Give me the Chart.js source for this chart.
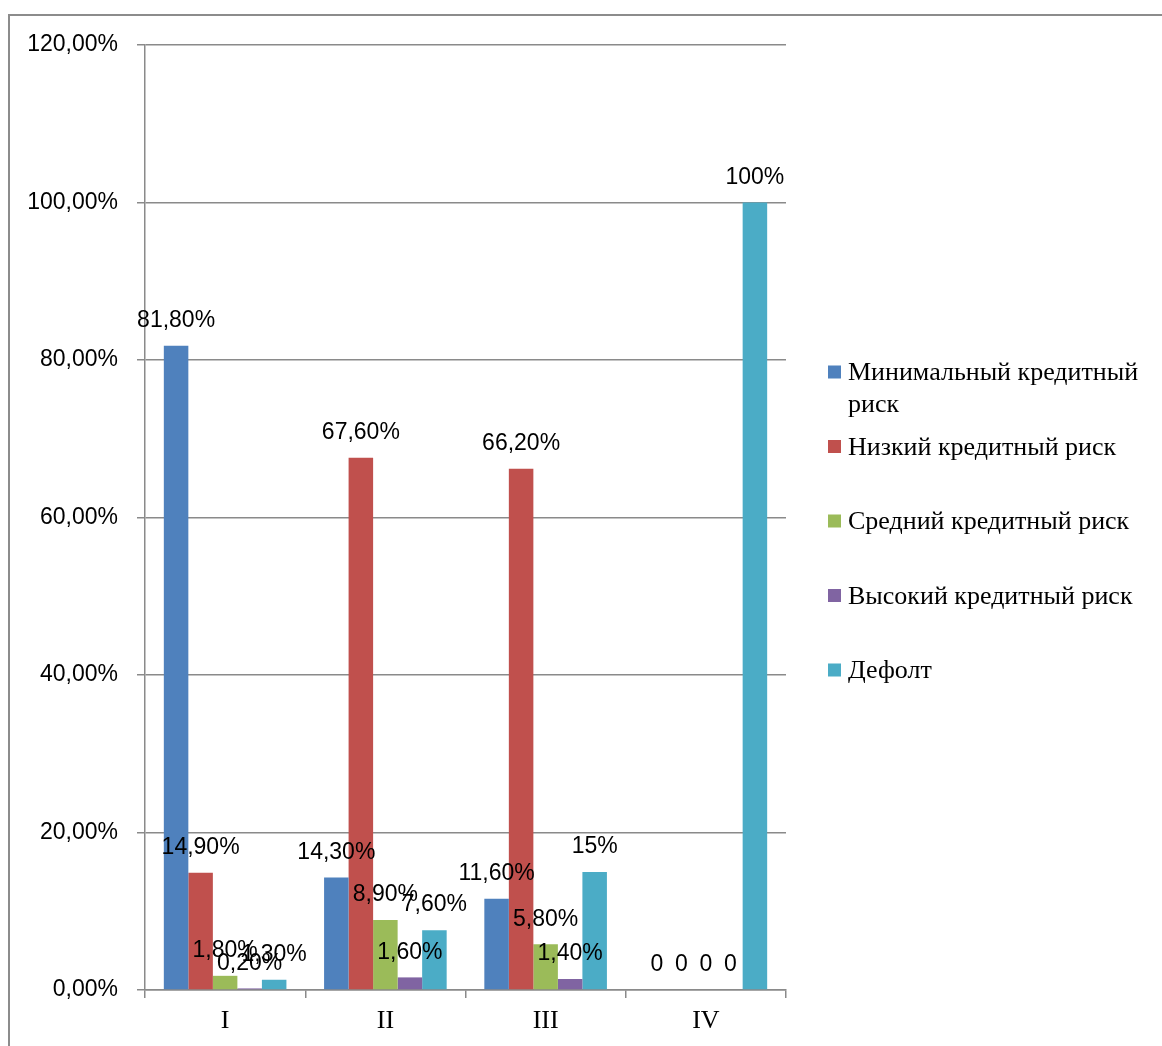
<!DOCTYPE html>
<html>
<head>
<meta charset="utf-8">
<title>Кредитный риск</title>
<script src="https://cdn.jsdelivr.net/npm/chart.js@4/dist/chart.umd.min.js"></script>
<style>
    html, body { margin: 0; padding: 0; background: #fff; }
    #chart { display: block; }
</style>
</head>
<body>
<canvas id="chart" width="1162" height="1046"></canvas>
<script>
// groups on the x axis
const categories = ['I', 'II', 'III', 'IV'];

// share of each risk class per group, %
const minimalRisk = [81.8, 14.3, 11.6, 0];
const lowRisk = [14.9, 67.6, 66.2, 0];
const mediumRisk = [1.8, 8.9, 5.8, 0];
const highRisk = [0.2, 1.6, 1.4, 0];
const defaultRisk = [1.3, 7.6, 15, 100];

// text printed above each bar
const minimalLabels = ['81,80%', '14,30%', '11,60%', '0'];
const lowLabels = ['14,90%', '67,60%', '66,20%', '0'];
const mediumLabels = ['1,80%', '8,90%', '5,80%', '0'];
const highLabels = ['0,20%', '1,60%', '1,40%', '0'];
const defaultLabels = ['1,30%', '7,60%', '15%', '100%'];

const seriesNames = [
    'Минимальный кредитный риск',
    'Низкий кредитный риск',
    'Средний кредитный риск',
    'Высокий кредитный риск',
    'Дефолт'
];
const yTicks = [0, 20, 40, 60, 80, 100, 120];

const colors = ['#4F81BD', '#C0504D', '#9BBB59', '#8064A2', '#4BACC6'];
const values = [minimalRisk, lowRisk, mediumRisk, highRisk, defaultRisk];
const labels = [minimalLabels, lowLabels, mediumLabels, highLabels, defaultLabels];

const sansFont = '"Liberation Sans", Arial, sans-serif';
const serifFont = '"Liberation Serif", "Times New Roman", serif';
const gridColor = '#8a8a8a';

// frame around the whole picture (top and left edges)
const framePlugin = {
    id: 'frame',
    beforeDraw(chart) {
        const ctx = chart.ctx;
        ctx.save();
        ctx.strokeStyle = '#8c8c8c';
        ctx.lineWidth = 2;
        ctx.beginPath();
        ctx.moveTo(9, chart.height);
        ctx.lineTo(9, 15);
        ctx.lineTo(chart.width, 15);
        ctx.stroke();
        ctx.restore();
    }
};

// value labels above the bars
const valueLabelPlugin = {
    id: 'valueLabels',
    afterDatasetsDraw(chart) {
        const ctx = chart.ctx;
        ctx.save();
        ctx.font = '23px ' + sansFont;
        ctx.fillStyle = '#000';
        ctx.textAlign = 'center';
        ctx.textBaseline = 'middle';
        chart.data.datasets.forEach((ds, i) => {
            chart.getDatasetMeta(i).data.forEach((bar, j) => {
                ctx.fillText(labels[i][j], bar.x, bar.y - 25);
            });
        });
        ctx.restore();
    }
};

// legend on the right with wrapped names
const sideLegendPlugin = {
    id: 'sideLegend',
    afterDraw(chart) {
        const ctx = chart.ctx;
        const area = chart.chartArea;
        const boxX = area.right + 42;
        const textX = boxX + 20;
        const maxWidth = chart.width - textX - 6;
        const step = 74.5;
        const lineHeight = 32;
        const midY = (area.top + area.bottom) / 2;
        const startY = midY - 2 * step + 5;
        ctx.save();
        ctx.font = '26px ' + serifFont;
        ctx.textBaseline = 'middle';
        ctx.textAlign = 'left';
        chart.data.datasets.forEach((ds, i) => {
            const y = startY + i * step;
            ctx.fillStyle = ds.backgroundColor;
            ctx.fillRect(boxX, y - 8, 13, 13);
            ctx.fillStyle = '#000';
            // simple word wrap
            const words = ds.label.split(' ');
            let line = '';
            let row = 0;
            words.forEach(w => {
                const test = line ? line + ' ' + w : w;
                if (line && ctx.measureText(test).width > maxWidth) {
                    ctx.fillText(line, textX, y + row * lineHeight);
                    row++;
                    line = w;
                } else {
                    line = test;
                }
            });
            ctx.fillText(line, textX, y + row * lineHeight);
        });
        ctx.restore();
    }
};

const ctx = document.getElementById('chart').getContext('2d');
new Chart(ctx, {
    type: 'bar',
    data: {
        labels: categories,
        datasets: values.map((v, i) => ({
            label: seriesNames[i],
            data: v,
            backgroundColor: colors[i],
            categoryPercentage: 0.765,
            barPercentage: 1
        }))
    },
    options: {
        responsive: false,
        animation: false,
        layout: {
            padding: { top: 45, right: 376, left: 0, bottom: 0 }
        },
        plugins: {
            legend: { display: false },
            tooltip: { enabled: false }
        },
        scales: {
            x: {
                grid: {
                    offset: true,
                    drawOnChartArea: false,
                    drawTicks: true,
                    tickLength: 8,
                    color: gridColor,
                    lineWidth: 1.5
                },
                border: { color: gridColor, width: 1.5 },
                ticks: {
                    color: '#000',
                    padding: 8,
                    font: { family: serifFont, size: 26 }
                },
                afterFit(scale) { scale.height = 56; }
            },
            y: {
                min: 0,
                max: 120,
                afterBuildTicks(scale) {
                    scale.ticks = yTicks.map(v => ({ value: v }));
                },
                grid: {
                    color: gridColor,
                    lineWidth: 1.5,
                    drawTicks: true,
                    tickLength: 8
                },
                border: { color: gridColor, width: 1.5 },
                ticks: {
                    color: '#000',
                    padding: 19,
                    font: { family: sansFont, size: 23 },
                    callback: v => v.toFixed(2).replace('.', ',') + '%'
                },
                afterFit(scale) { scale.width = 145; }
            }
        }
    },
    plugins: [framePlugin, valueLabelPlugin, sideLegendPlugin]
});
</script>
</body>
</html>
